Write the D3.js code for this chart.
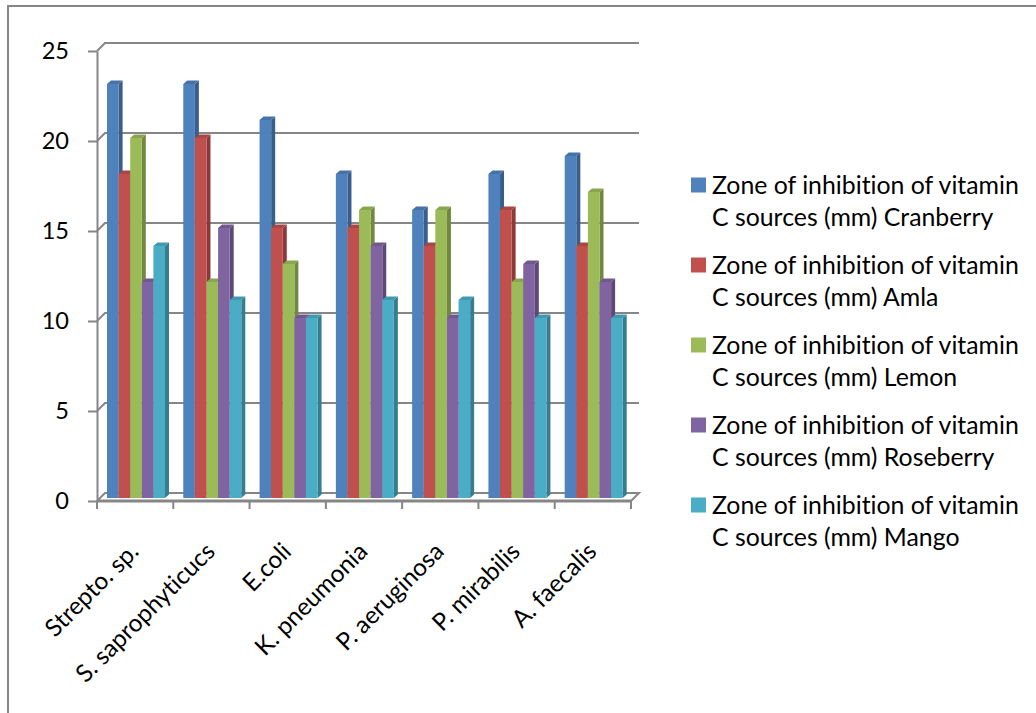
<!DOCTYPE html>
<html>
<head>
<meta charset="utf-8">
<script src="https://cdn.jsdelivr.net/npm/d3@7"></script>
<style>
  body { margin: 0; background: #fff; }
  svg { display: block; }
  text { font-family: Lato, "Open Sans", "DejaVu Sans", sans-serif; fill: #000;
         font-variant-ligatures: none; font-feature-settings: "liga" 0; }
</style>
</head>
<body>
<svg id="chart" width="1036" height="713"></svg>
<script>
// Bacterial strains on the category axis
const categories = ["Strepto. sp.", "S. saprophyticucs", "E.coli", "K. pneumonia",
                    "P. aeruginosa", "P. mirabilis", "A. faecalis"];

// Zone of inhibition (mm) per vitamin C source
const seriesNames = ["Cranberry", "Amla", "Lemon", "Roseberry", "Mango"];
const cranberry = [23, 23, 21, 18, 16, 18, 19];
const amla      = [18, 20, 15, 15, 14, 16, 14];
const lemon     = [20, 12, 13, 16, 16, 12, 17];
const roseberry = [12, 15, 10, 14, 10, 13, 12];
const mango     = [14, 11, 10, 11, 11, 10, 10];

const yTicks = [0, 5, 10, 15, 20, 25];
const legendLine1 = "Zone of inhibition of vitamin";
const legendLine2 = "C sources (mm)";

const seriesValues = [cranberry, amla, lemon, roseberry, mango];
const colors = ["#4F81BD", "#C0504D", "#9BBB59", "#8064A2", "#4BACC6"];
const gridColor = "#868686";

const svg = d3.select("#chart");

// pick a font size so the legend line spans the intended width
const probe = svg.append("text").attr("font-size", 100).text(legendLine1);
const fs = 100 * 307 / probe.node().getComputedTextLength();
probe.remove();

// outer chart frame
svg.append("path")
  .attr("d", "M8,713 V6 H1036")
  .attr("fill", "none").attr("stroke", gridColor).attr("stroke-width", 2);

// scales (front plane of the 3D box)
const x = d3.scaleBand().domain(categories).range([97, 631]);
const y = d3.scaleLinear().domain([0, 25]).range([501, 51]);
const inner = d3.scaleBand().domain(seriesNames).range([10, 68]);

// depth offsets: walls and bars
const wdx = 8, wdy = -8;
const bdx = 4, bdy = -3.5, barLift = 3;

const [x0, x1] = x.range();

// back wall gridlines with the diagonal on the side wall
const grid = svg.append("g").attr("fill", "none").attr("stroke", gridColor).attr("stroke-width", 2);
yTicks.filter(v => v > 0).forEach(v => {
  grid.append("path")
    .attr("d", `M${x0},${y(v)} L${x0 + wdx},${y(v) + wdy} H${x1 + wdx}`);
});

// floor
grid.append("path")
  .attr("d", `M${x0},${y(0)} L${x0 + wdx},${y(0) + wdy} H${x1 + wdx} L${x1},${y(0)}`);
svg.append("line")
  .attr("x1", x0).attr("x2", x1).attr("y1", y(0)).attr("y2", y(0))
  .attr("stroke", gridColor).attr("stroke-width", 3);

// value axis
const yAxis = svg.append("g")
  .attr("transform", `translate(${x0},0)`)
  .call(d3.axisLeft(y).tickValues(yTicks).tickSize(9).tickSizeOuter(0).tickPadding(19));
yAxis.select(".domain").attr("stroke", gridColor).attr("stroke-width", 2);
yAxis.selectAll(".tick line").attr("stroke", gridColor).attr("stroke-width", 2);
yAxis.selectAll(".tick text").attr("font-size", fs * 0.95).attr("font-family", null).attr("fill", "#000");

// category tick marks sit between the clusters
const boundaries = categories.map(c => x(c)).concat([x1]);
svg.append("g").selectAll("line").data(boundaries).join("line")
  .attr("x1", d => d).attr("x2", d => d)
  .attr("y1", y(0)).attr("y2", y(0) + 8)
  .attr("stroke", gridColor).attr("stroke-width", 2);

// category labels, rotated
svg.append("g").selectAll("text").data(categories).join("text")
  .attr("transform", d => `translate(${x(d) + x.bandwidth() / 2 + 5},${y(0) + 52}) rotate(-45)`)
  .attr("text-anchor", "end")
  .attr("font-size", fs * 0.98)
  .text(d => d);

// 3D columns
const bars = svg.append("g");
categories.forEach((cat, ci) => {
  seriesNames.forEach((s, si) => {
    const v = seriesValues[si][ci];
    const bx = x(cat) + inner(s);
    const bw = inner.bandwidth();
    const top = y(v) - barLift;
    const base = y(0) - barLift;
    const c = d3.color(colors[si]);
    const g = bars.append("g");
    // side face
    g.append("path")
      .attr("d", `M${bx + bw},${top} L${bx + bw + bdx},${top + bdy} V${base + bdy} L${bx + bw},${base} Z`)
      .attr("fill", c.darker(0.9));
    // top face
    g.append("path")
      .attr("d", `M${bx},${top} L${bx + bdx},${top + bdy} H${bx + bw + bdx} L${bx + bw},${top} Z`)
      .attr("fill", c.darker(0.35));
    // front face
    g.append("rect")
      .attr("x", bx).attr("y", top)
      .attr("width", bw).attr("height", base - top)
      .attr("fill", c);
  });
});

// legend
const legend = svg.append("g");
seriesNames.forEach((s, i) => {
  const cy = 185 + i * 80;
  legend.append("rect")
    .attr("x", 691).attr("y", cy - 7.5).attr("width", 15).attr("height", 15)
    .attr("fill", colors[i]);
  legend.append("text")
    .attr("x", 712).attr("y", cy).attr("dy", "0.35em")
    .attr("font-size", fs).text(legendLine1);
  legend.append("text")
    .attr("x", 712).attr("y", cy + 32).attr("dy", "0.35em")
    .attr("font-size", fs).text(`${legendLine2} ${s}`);
});
</script>
</body>
</html>
